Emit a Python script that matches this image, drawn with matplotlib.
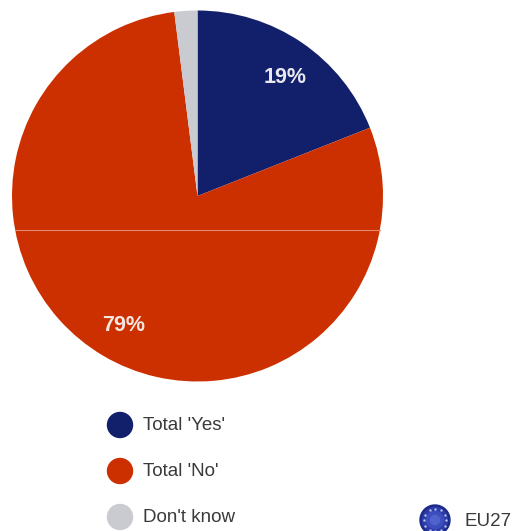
import matplotlib
matplotlib.use("Agg")
import numpy as np
import matplotlib.pyplot as plt
from matplotlib.patches import Ellipse

categories = ["Total 'Yes'", "Total 'No'", "Don't know"]
values = [19, 79, 2]
colors = ["#12206c", "#cc3000", "#c9cbd0"]
pie_labels = ["19%", "79%"]

W, H = 514, 531
plt.rcParams["font.family"] = ["Liberation Sans", "DejaVu Sans"]
fig = plt.figure(figsize=(W / 100, H / 100), dpi=100)

# pie sits in a square axes, pixel box measured from top left
ax = fig.add_axes([12 / W, 1 - 381.5 / H, 371 / W, 371 / H])
ax.pie(values, colors=colors, startangle=90, counterclock=False, radius=1.0)
ax.set_xlim(-1, 1)
ax.set_ylim(-1, 1)
ax.set_aspect("equal")

ax.text(0.47, 0.64, pie_labels[0], color="#e8e8ee", fontsize=15.5, fontweight="bold", ha="center", va="center")
ax.text(-0.397, -0.70, pie_labels[1], color="#f3e6e0", fontsize=15.5, fontweight="bold", ha="center", va="center")

# thin light seam across the disc
ax.plot([-0.982, 0.982], [-0.185, -0.185], color="#e58a6c", lw=0.8)

# overlay in pixel coordinates for the legend
ov = fig.add_axes([0, 0, 1, 1])
ov.set_xlim(0, W)
ov.set_ylim(H, 0)
ov.axis("off")
ov.patch.set_alpha(0)

legend_y = [425, 471, 517]
for cat, col, y in zip(categories, colors, legend_y):
    ov.add_patch(Ellipse((120, y), 25, 25, color=col))
    ov.text(143, y + 1, cat, fontsize=13.5, color="#3a3a3a", va="center", ha="left")

# EU27 marker: shaded disc with a ring of stars
ex, ey = 435, 520
for d, c in [(30, "#1c2a8c"), (25, "#2c3ca8"), (17, "#3c4dbe"), (9, "#5262cc")]:
    ov.add_patch(Ellipse((ex, ey), d, d, color=c))
angles = np.deg2rad(np.arange(0, 360, 30))
ov.scatter(ex + 11 * np.cos(angles), ey + 11 * np.sin(angles), s=3, color="#b9c0ea", linewidths=0)
ov.text(465, 521, "EU27", fontsize=13.5, color="#3a3a3a", va="center", ha="left")

fig.savefig("out.png", dpi=100)
